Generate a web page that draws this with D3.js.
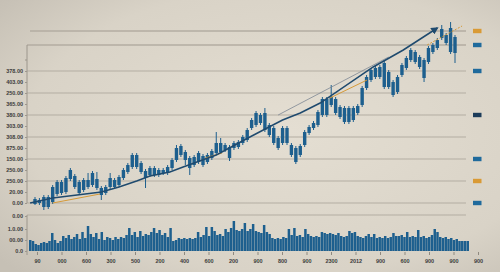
<!DOCTYPE html>
<html>
<head>
<meta charset="utf-8">
<script src="https://cdn.jsdelivr.net/npm/d3@7"></script>
<style>
html, body { margin: 0; padding: 0; }
body { width: 500px; height: 272px; overflow: hidden; }
svg text { font-family: "Liberation Sans", Arial, sans-serif; font-weight: bold; fill: #3b3b3b; }
</style>
</head>
<body>
<svg id="chart" width="500" height="272"></svg>
<script>
// candles (price units)
var opens  = [-1,0,-4,-4,1,9,10,11,24,16, 10,13,16,18,15,8,10,16,16,18, 25,31,36,36,31,25,28,28,28,30,
              30,35,43,48,43,35,38,41,38,41, 45,50,51,53,45,55,56,60,63,75, 78,80,73,68,60,55,60,60,48,41,
              48,58,70,75,78,88,88,98,90,86, 81,81,83,90,98,115,123,126,126,116, 116,108,111,128,135,143,141,136,125,141,
              151,155,165,160,151,150];
var closes = [4,3,6,6,16,21,21,25,33,27, 21,23,23,30,24,15,16,25,23,26, 33,38,48,48,40,32,35,35,33,33,
              36,43,55,57,51,45,46,50,47,48, 52,60,60,58,56,60,61,66,73,83, 90,88,90,78,75,65,75,75,58,55,
              57,71,76,80,91,104,104,106,104,96, 95,95,95,97,115,126,133,135,136,140, 131,121,126,138,145,153,151,146,143,155,
              158,163,174,168,175,166];
var highs  = [6,5,8,8,18,23,23,27,35,29, 23,25,30,32,31,17,18,30,25,28, 35,40,50,50,42,34,37,37,35,35,
              38,45,58,59,53,47,48,52,49,50, 54,71,65,60,58,62,63,68,75,85, 92,90,95,80,77,67,77,77,60,57,
              59,73,78,82,93,106,106,118,106,98, 97,97,97,99,117,128,135,137,138,143, 133,123,128,140,147,155,153,148,145,157,
              160,165,178,170,181,168];
var lows   = [-2,-2,-7,-6,-1,7,8,9,22,14, 8,11,14,16,13,3,8,14,14,16, 23,29,34,34,29,15,26,26,26,28,
              28,33,41,46,38,28,36,39,36,39, 43,48,49,51,42,53,54,58,61,73, 76,78,71,66,58,53,58,58,46,39,
              46,56,68,73,76,86,86,96,88,84, 79,79,81,88,96,113,121,124,124,114, 114,106,109,126,133,141,139,134,121,139,
              149,153,163,158,149,140];

// trend lines, by candle index
var trendIdx = [-1.1,4,15,19,23,26,30.5,33.5,41,48.6,52.5,56,60,64.5,76.5,83.3,91];
var trendVal = [0,5,11,16,22,27,31,36,48,66,75,83,90,100,136,153,175];
var orangeA = [[4,0],[14.7,9]];
var orangeB = [[66.7,105],[75.1,123]];
var orangeC = [[38.5,45],[42.3,50]];
var orangeDash = [[88.7,158],[96.6,177]];
var thinTrend = [[55,88],[80,146]];

var volumes = [11,10,7,6,8,9,8,10,18,11, 8,10,15,13,16,12,14,17,12,19, 13,25,17,14,18,12,
               19,11,14,13,11,14,12,14,13,16, 23,16,19,14,20,15,17,16,19,23, 18,21,16,18,14,23,10,11,13,12, 13,12,13,12,
               13,
               19,14,16,24,15,24,20,16,17,15, 22,19,23,30,21,20,22,28,20,22, 27,20,19,18,26,19,17,13,12,13,
               12,14,13,22,16,23,15,16,14,22, 17,15,14,15,14,19,18,17,18,17, 16,18,15,14,15,20,18,19,15,14,
               13,15,17,14,17,13,14,13,15,13, 14,18,15,15,16,14,19,14,15,14, 21,14,15,13,14,16,22,19,14,13,
               14,12,13,11,12,10,10,10,10];

var priceTicks  = [0,11,22,33,44,55,66,77,88,99,110,121,132];
var priceLabels = ["0.00","20.00","250.00","250.00","150.00","875.00","308.00","303.00","380.00","365.00","250.00","403.00","378.00"];
var gridVals    = [0,22,44,66,88,110,132,158,172];
var volTicks    = [0,11,22,35];
var volLabels   = ["0.0","00.00","1.0.00","0.00"];
var xLabels     = ["90","000","600","300","500","200","400","600","200","900","800","900","2300","2012","900","600","900","900","900"];
var legendVals  = [172,158,132,88,44,22,0];
var legendCols  = ["#d99a35","#1f6a9c","#1f6a9c","#1c3c5a","#1f6a9c","#d99a35","#1f6a9c"];

var Chart = (function () {
    var svg = d3.select("#chart"),
        blue = "#1d5f8e",
        navy = "#1f4a6e",
        orange = "#d59a3a",
        left = 27, right = 466;

    var x = d3.scaleLinear().domain([0, 95]).range([35, 455]),
        y = d3.scaleLinear().domain([0, 180]).range([203, 23]),
        vx = d3.scaleBand().domain(d3.range(volumes.length)).range([29, 469]).paddingInner(0.1),
        vy = d3.scaleLinear().domain([0, 36]).range([251, 215]),
        ax = d3.scalePoint().domain(d3.range(xLabels.length)).range([37, 478]);

    function background() {
        var grad = svg.append("defs").append("radialGradient")
            .attr("id", "bg").attr("cx", "58%").attr("cy", "48%").attr("r", "75%");
        grad.append("stop").attr("offset", "0%").attr("stop-color", "#e4ded2");
        grad.append("stop").attr("offset", "70%").attr("stop-color", "#d9d3c7");
        grad.append("stop").attr("offset", "100%").attr("stop-color", "#c6c0b5");
        svg.append("rect").attr("width", 500).attr("height", 272).attr("fill", "url(#bg)");

        svg.select("defs").append("marker")
            .attr("id", "arrow").attr("viewBox", "0 0 10 10")
            .attr("refX", 8).attr("refY", 5)
            .attr("markerWidth", 5).attr("markerHeight", 5)
            .attr("orient", "auto")
            .append("path").attr("d", "M0,0L10,5L0,10z").attr("fill", navy);
    }

    function grid() {
        svg.append("g").selectAll("line").data(gridVals).enter().append("line")
            .attr("x1", function (d) { return d === 172 ? 30 : left; })
            .attr("x2", right)
            .attr("y1", function (d) { return y(d); })
            .attr("y2", function (d) { return y(d); })
            .attr("stroke", "#b3ada2")
            .attr("stroke-width", function (d) { return d >= 158 ? 1.4 : 1; });

        svg.append("line").attr("x1", left).attr("x2", right)
            .attr("y1", vy(36)).attr("y2", vy(36))
            .attr("stroke", "#b3ada2");
    }

    function axes() {
        var ya = svg.append("g")
            .attr("transform", "translate(" + left + ",0)")
            .call(d3.axisLeft(y).tickValues(priceTicks)
                .tickFormat(function (d, i) { return priceLabels[i]; })
                .tickSize(2).tickPadding(2));
        ya.select(".domain").attr("d", "M0," + y(158) + "V" + y(0)).attr("stroke", "#9c968c");
        ya.selectAll(".tick line").attr("stroke", "#9c968c");
        ya.selectAll("text").style("font-size", "5.5px");
        ya.append("line").attr("x1", -2).attr("x2", 0).attr("y1", y(143)).attr("y2", y(143)).attr("stroke", "#9c968c");

        var va = svg.append("g")
            .attr("transform", "translate(" + left + ",0)")
            .call(d3.axisLeft(vy).tickValues(volTicks)
                .tickFormat(function (d, i) { return volLabels[i]; })
                .tickSize(2).tickPadding(2));
        va.select(".domain").attr("d", "M0," + vy(36) + "V" + (vy(0) + 4)).attr("stroke", "#9c968c");
        va.selectAll(".tick line").attr("stroke", "#9c968c");
        va.selectAll("text").style("font-size", "5.5px");

        var xa = svg.append("g")
            .attr("transform", "translate(0," + (vy(0) + 1) + ")")
            .call(d3.axisBottom(ax).tickFormat(function (d) { return xLabels[d]; })
                .tickSize(3).tickPadding(4));
        xa.select(".domain").remove();
        xa.selectAll(".tick line").attr("stroke", "#8f897f");
        xa.selectAll("text").style("font-size", "5.5px").attr("fill", "#444");
    }

    function volume() {
        svg.append("g").selectAll("rect").data(volumes).enter().append("rect")
            .attr("x", function (d, i) { return vx(i); })
            .attr("width", vx.bandwidth())
            .attr("y", function (d) { return vy(d); })
            .attr("height", function (d) { return vy(0) - vy(d); })
            .attr("fill", blue);
    }

    function candles() {
        var g = svg.append("g");
        var idx = d3.range(opens.length);
        g.selectAll("line").data(idx).enter().append("line")
            .attr("x1", function (i) { return x(i); })
            .attr("x2", function (i) { return x(i); })
            .attr("y1", function (i) { return y(highs[i]); })
            .attr("y2", function (i) { return y(lows[i]); })
            .attr("stroke", blue).attr("stroke-width", 1);
        g.selectAll("rect").data(idx).enter().append("rect")
            .attr("x", function (i) { return x(i) - 1.7; })
            .attr("width", 3.4)
            .attr("y", function (i) { return y(Math.max(opens[i], closes[i])); })
            .attr("height", function (i) { return Math.abs(y(opens[i]) - y(closes[i])); })
            .attr("fill", blue);
    }

    function lines() {
        var line = d3.line().x(function (d) { return x(d[0]); }).y(function (d) { return y(d[1]); });
        var trend = trendIdx.map(function (t, i) { return [t, trendVal[i]]; });

        svg.append("path").attr("d", line(thinTrend))
            .attr("fill", "none").attr("stroke", "#7c8793").attr("stroke-width", 0.8);
        [orangeA, orangeB, orangeC].forEach(function (seg) {
            svg.append("path").attr("d", line(seg))
                .attr("fill", "none").attr("stroke", orange).attr("stroke-width", 1);
        });
        svg.append("path").attr("d", line(orangeDash))
            .attr("fill", "none").attr("stroke", orange).attr("stroke-width", 1)
            .attr("stroke-dasharray", "2,1.5");
        svg.append("path").attr("d", line(trend))
            .attr("fill", "none").attr("stroke", navy).attr("stroke-width", 1.5)
            .attr("marker-end", "url(#arrow)");
    }

    function legend() {
        svg.append("g").selectAll("rect").data(legendVals).enter().append("rect")
            .attr("x", 473).attr("width", 8.5)
            .attr("y", function (d) { return y(d) - 2.2; })
            .attr("height", 4.4)
            .attr("fill", function (d, i) { return legendCols[i]; });
    }

    function draw() {
        background();
        grid();
        volume();
        candles();
        lines();
        axes();
        legend();
    }

    return { draw: draw };
})();

Chart.draw();
</script>
</body>
</html>
